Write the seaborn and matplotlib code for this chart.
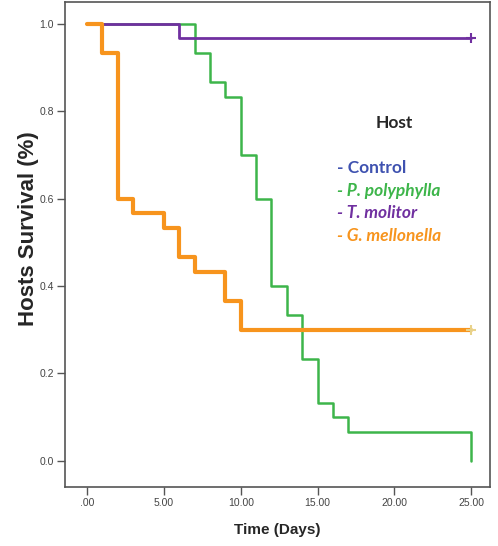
import seaborn as sns
import matplotlib.pyplot as plt
import pandas as pd

# Kaplan-Meier style survival curves
poly_days = [0, 7, 8, 9, 10, 11, 12, 13, 14, 15, 16, 17, 25]
poly_surv = [1.0, 0.933, 0.867, 0.833, 0.7, 0.6, 0.4, 0.333, 0.233, 0.133, 0.1, 0.067, 0.0]

moli_days = [0, 6, 25]
moli_surv = [1.0, 0.967, 0.967]

gall_days = [0, 1, 2, 3, 5, 6, 7, 9, 10, 25]
gall_surv = [1.0, 0.933, 0.6, 0.567, 0.533, 0.467, 0.433, 0.367, 0.3, 0.3]

hosts = ['Control', 'P. polyphylla', 'T. molitor', 'G. mellonella']
host_colors = ['#3F52B0', '#3DB54A', '#7030A0', '#F7941D']

xticks = [0, 5, 10, 15, 20, 25]
xtick_labels = ['.00', '5.00', '10.00', '15.00', '20.00', '25.00']
yticks = [0.0, 0.2, 0.4, 0.6, 0.8, 1.0]

sns.set_style('white')
plt.rcParams['font.family'] = ['Liberation Sans', 'DejaVu Sans']

fig = plt.figure(figsize=(4.98, 5.46), dpi=100)
ax = fig.add_axes([0.1305, 0.108, 0.853, 0.888])

df_poly = pd.DataFrame({'day': poly_days, 'surv': poly_surv})
df_moli = pd.DataFrame({'day': moli_days, 'surv': moli_surv})
df_gall = pd.DataFrame({'day': gall_days, 'surv': gall_surv})

sns.lineplot(data=df_poly, x='day', y='surv', ax=ax, color=host_colors[1],
             lw=1.8, drawstyle='steps-post', sort=False, estimator=None)
sns.lineplot(data=df_moli, x='day', y='surv', ax=ax, color=host_colors[2],
             lw=2.0, drawstyle='steps-post', sort=False, estimator=None)
sns.lineplot(data=df_gall, x='day', y='surv', ax=ax, color=host_colors[3],
             lw=3.0, drawstyle='steps-post', sort=False, estimator=None)

# censor marks at the end of follow-up
ax.plot(moli_days[-1], moli_surv[-1], marker='+', color=host_colors[2], ms=7, mew=1.5)
ax.plot(gall_days[-1], gall_surv[-1], marker='+', color='#E8D28A', ms=7, mew=1.5)

ax.set_xlim(-1.43, 26.2)
ax.set_ylim(-0.06, 1.05)
ax.set_xticks(xticks)
ax.set_xticklabels(xtick_labels)
ax.set_yticks(yticks)
ax.set_yticklabels([f'{v:.1f}' for v in yticks])
ax.tick_params(axis='both', direction='out', length=6, width=1, color='#555555',
               labelsize=7.5, labelcolor='#444444', pad=2, left=True, bottom=True)
for sp in ax.spines.values():
    sp.set_color('#555555')
    sp.set_linewidth(1.2)

ax.set_xlabel('Time (Days)', fontsize=11, fontweight='bold', labelpad=11)
ax.set_ylabel('Hosts Survival (%)', fontsize=16, fontweight='bold')
ax.yaxis.set_label_coords(-0.062, 0.532)

# legend written as coloured text, as in the original
ax.text(0.776, 0.75, 'Host', transform=ax.transAxes, ha='center', va='center',
        fontsize=12.5, fontweight='bold', family=['Lato', 'DejaVu Sans'])
for i, (name, c) in enumerate(zip(hosts, host_colors)):
    style = 'normal' if name == 'Control' else 'italic'
    ax.text(0.64, 0.658 - i * 0.0465, '- ' + name, transform=ax.transAxes,
            ha='left', va='center', color=c, fontsize=12.5, fontweight='bold',
            fontstyle=style, family=['Lato', 'DejaVu Sans'])

fig.savefig('out.png', dpi=100)
